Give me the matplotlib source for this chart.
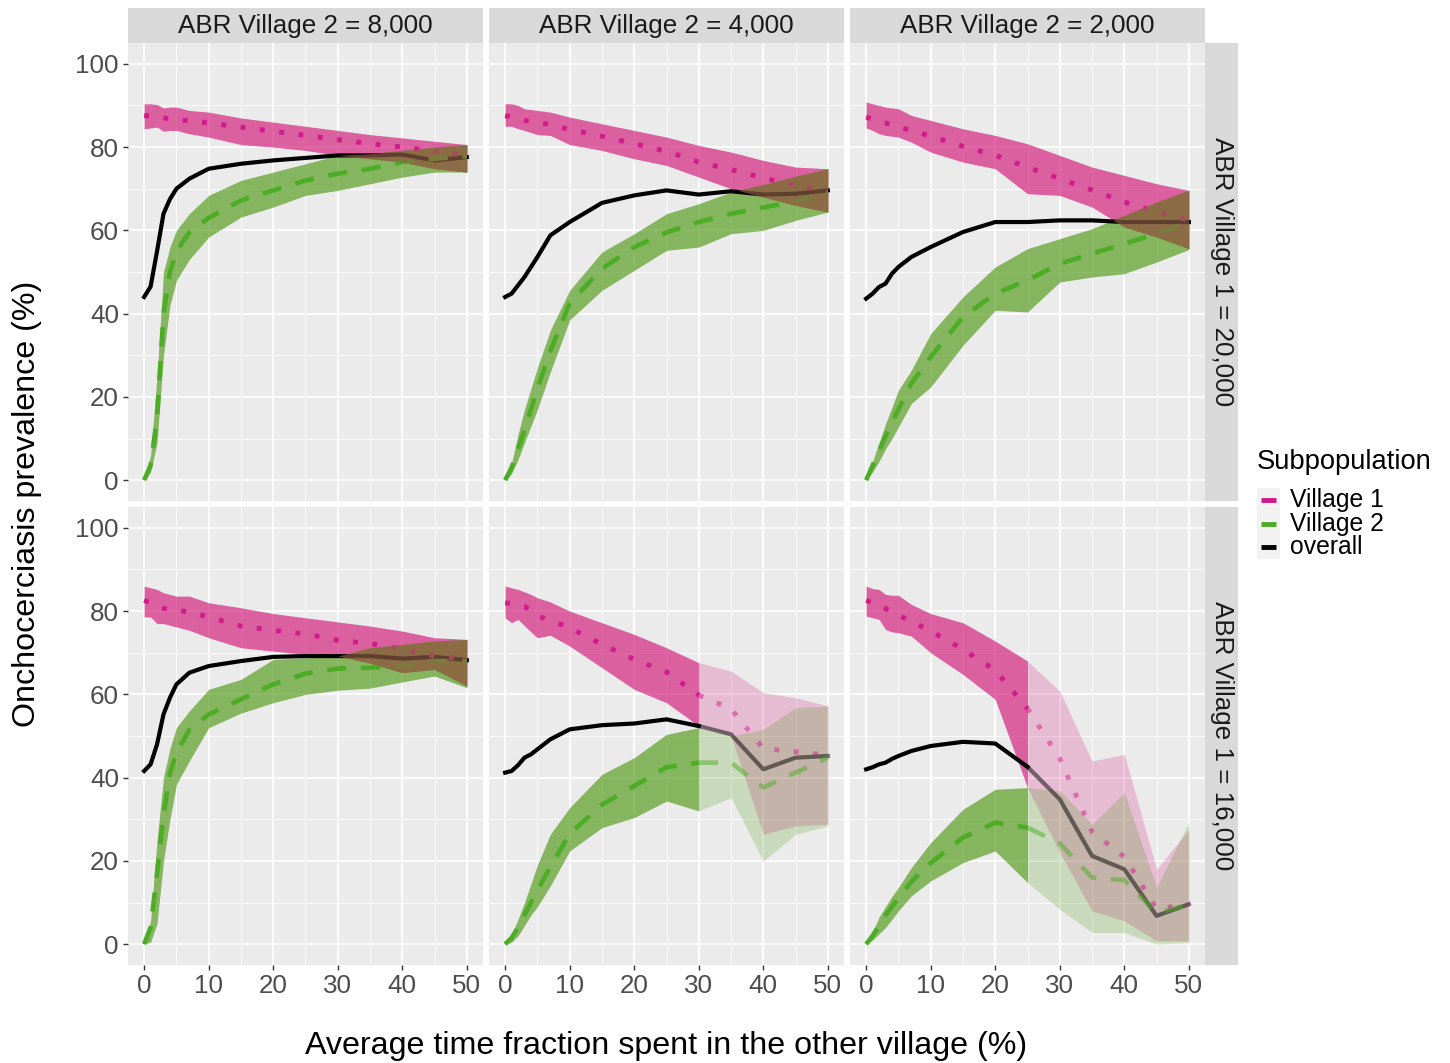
import numpy as np
import matplotlib
matplotlib.use("Agg")
import matplotlib.pyplot as plt
from matplotlib.lines import Line2D
from matplotlib.patches import Rectangle

plt.rcParams['font.family'] = ['Liberation Sans', 'DejaVu Sans']

# ---------------- data ----------------
x = [0, 1, 2, 3, 4, 5, 7, 10, 15, 20, 25, 30, 35, 40, 45, 50]
col_labels = ["ABR Village 2 = 8,000", "ABR Village 2 = 4,000", "ABR Village 2 = 2,000"]
row_labels = ["ABR Village 1 = 20,000", "ABR Village 1 = 16,000"]
series_labels = ["Village 1", "Village 2", "overall"]
x_ticks = [0, 10, 20, 30, 40, 50]
y_ticks = [0, 20, 40, 60, 80, 100]

# ABR1 = 20,000 / ABR2 = 8,000
v1_mean_20_8 = [87.6, 87.4, 87.2, 87.0, 86.8, 86.6, 86.3, 85.8, 84.8, 83.8, 82.8, 81.8, 80.8, 80.0, 79.0, 78.0]
v1_lo_20_8 = [84.4, 84.6, 84.8, 83.8, 84.0, 84.0, 83.2, 82.4, 80.6, 80.0, 79.2, 78.0, 77.2, 76.4, 74.8, 74.0]
v1_hi_20_8 = [90.4, 90.4, 90.2, 89.4, 89.6, 89.6, 88.8, 88.4, 87.0, 86.0, 85.0, 84.0, 83.0, 82.2, 81.4, 80.6]
v2_mean_20_8 = [0, 3.5, 15, 40, 50, 55, 59.5, 63, 67.2, 69.6, 72, 73.6, 74.8, 76.4, 77.2, 77.8]
v2_lo_20_8 = [0, 2, 9, 30, 42, 48, 53, 58.4, 63.2, 65.6, 68.4, 69.6, 71.2, 72.8, 74.0, 74.0]
v2_hi_20_8 = [0, 6, 25, 50, 56, 60, 64, 68.4, 72, 74, 76, 78, 78.4, 79.2, 80, 80.6]
all_20_8 = [44, 46.5, 55, 64, 67.5, 70, 72.4, 74.8, 76, 76.8, 77.4, 78, 78, 78.2, 76.8, 77.6]

# ABR1 = 20,000 / ABR2 = 4,000
v1_mean_20_4 = [87.6, 87.2, 86.8, 86.4, 86.2, 86.0, 85.4, 84.2, 82.6, 80.8, 79.0, 76.4, 74.6, 72.6, 70.8, 69.4]
v1_lo_20_4 = [85.0, 85.0, 84.4, 84.0, 83.5, 83.0, 82.8, 80.6, 79.2, 77.2, 75.6, 72.8, 70.0, 68.0, 66.0, 64.4]
v1_hi_20_4 = [90.4, 90.4, 90.0, 89.2, 89.0, 88.8, 88.4, 87.2, 85.6, 84.0, 82.4, 80.4, 78.8, 76.8, 75.2, 74.8]
v2_mean_20_4 = [0, 3, 7.5, 12, 17, 22, 31, 42.5, 50.8, 56, 59.5, 62, 64, 65.5, 67, 69]
v2_lo_20_4 = [0, 1.6, 5, 9, 13, 17, 26, 38.5, 45.6, 50.4, 55.2, 56, 59.2, 60, 62.4, 64.4]
v2_hi_20_4 = [0, 4, 11, 17, 22, 27, 36, 45.6, 54.8, 59.2, 64, 66.4, 69.2, 71, 73, 74.8]
all_20_4 = [44, 44.8, 46.8, 48.8, 51.2, 53.6, 58.8, 62, 66.6, 68.4, 69.6, 68.6, 69.4, 68.6, 68.8, 69.6]

# ABR1 = 20,000 / ABR2 = 2,000
v1_mean_20_2 = [87.2, 86.7, 86.2, 85.8, 85.3, 84.8, 84.0, 82.6, 80.2, 78.0, 75.2, 72.4, 69.7, 66.8, 64.4, 62.5]
v1_lo_20_2 = [84.6, 84.0, 83.2, 82.8, 82.6, 82.4, 81.2, 78.8, 76.4, 74.8, 68.8, 68.4, 65.6, 60.8, 58.4, 55.6]
v1_hi_20_2 = [90.8, 90.4, 90.0, 89.6, 89.4, 89.2, 87.6, 86.4, 84.4, 82.8, 80.8, 78.0, 75.2, 73.2, 71.2, 69.6]
v2_mean_20_2 = [0, 3.5, 7, 10.5, 14, 17, 23.2, 29.6, 39.2, 44.8, 48, 52, 54.4, 56.8, 59.2, 62]
v2_lo_20_2 = [0, 2, 4.5, 7.5, 10, 12.8, 18.4, 22.4, 32.4, 40.8, 40.4, 47.6, 48.8, 49.6, 52.4, 55.4]
v2_hi_20_2 = [0, 4.5, 9, 13.5, 17.5, 21.6, 26.4, 35.2, 44, 51.2, 55.6, 58, 60.4, 63.6, 66.8, 69.6]
all_20_2 = [43.6, 44.8, 46.4, 47.2, 49.6, 51.2, 53.6, 56.0, 59.6, 62.0, 62.0, 62.4, 62.4, 62.0, 62.0, 62.0]

# ABR1 = 16,000 / ABR2 = 8,000
v1_mean_16_8 = [82.6, 82.0, 81.4, 80.7, 80.3, 80.2, 79.8, 78.6, 76.4, 75.4, 74.5, 73.0, 72.2, 70.8, 69.2, 68.5]
v1_lo_16_8 = [78.6, 78.6, 77.0, 77.0, 76.6, 76.2, 75.4, 73.6, 71.2, 70.4, 69.6, 69.2, 67.5, 65.2, 66.0, 62.0]
v1_hi_16_8 = [86.0, 85.6, 85.2, 84.4, 84.0, 83.6, 83.6, 82.0, 80.8, 79.4, 78.4, 77.4, 76.4, 75.2, 73.6, 73.2]
v2_mean_16_8 = [0, 4, 17, 31, 41, 46, 51.5, 55.2, 58.8, 62.4, 65, 66.2, 66.4, 66.8, 68, 68]
v2_lo_16_8 = [0, 0.5, 5, 20, 30, 38.4, 44, 52, 55.5, 58, 60, 61, 61.5, 63, 64.4, 61.6]
v2_hi_16_8 = [0, 5.6, 25, 40, 47, 52, 56, 61.2, 63.6, 68.4, 68.8, 69.2, 71.2, 72, 72.8, 73.2]
all_16_8 = [41.6, 43.2, 48, 55.2, 59.2, 62.4, 65.2, 66.8, 68, 69, 69.2, 69.2, 69.2, 68.6, 69, 68.2]

# ABR1 = 16,000 / ABR2 = 4,000
v1_mean_16_4 = [82.0, 81.8, 81.5, 81.2, 80.0, 78.8, 77.8, 76.0, 72.0, 68.4, 65.4, 59.8, 56.5, 47.0, 46.2, 45.4]
v1_lo_16_4 = [78.4, 77.2, 78.0, 76.5, 75.0, 73.6, 74.2, 71.6, 66.4, 61.2, 58.0, 52.4, 50.0, 26.4, 28.4, 28.8]
v1_hi_16_4 = [86.0, 85.6, 85.2, 84.6, 84.0, 83.2, 82.2, 80.0, 77.2, 74.4, 71.2, 67.6, 65.6, 60.4, 59.2, 57.2]
v2_mean_16_4 = [0, 1.5, 4, 7, 10, 13, 18.5, 26.5, 33.5, 38, 42.5, 43.6, 43.6, 37.6, 41.2, 44.8]
v2_lo_16_4 = [0, 0.5, 2, 4.5, 7, 9, 14, 22.4, 28, 30.4, 34.4, 32, 35.2, 20, 26.4, 28.4]
v2_hi_16_4 = [0, 2.4, 6, 10, 14.5, 19, 26.4, 32.8, 40.8, 44.8, 50.4, 52, 50, 51.6, 56.8, 57.2]
all_16_4 = [41.2, 41.6, 43, 44.8, 45.6, 46.8, 49.2, 51.6, 52.6, 53, 54, 52.4, 50.4, 42, 44.8, 45.2]

# ABR1 = 16,000 / ABR2 = 2,000
v1_mean_16_2 = [82.6, 82.0, 81.2, 80.6, 79.8, 79.0, 77.5, 75.2, 70.8, 65.8, 56.6, 44.6, 27.0, 21.0, 8.5, 9.5]
v1_lo_16_2 = [78.8, 78.4, 78.0, 75.6, 75.0, 74.8, 74.0, 70.0, 64.8, 58.8, 37.6, 22.0, 8.0, 5.6, 0.8, 0.8]
v1_hi_16_2 = [86.0, 85.4, 85.2, 84.0, 83.8, 83.8, 81.6, 79.4, 77.2, 72.8, 68.0, 60.8, 44.0, 45.6, 18.0, 27.6]
v2_mean_16_2 = [0, 2, 4.5, 7, 9, 11, 15, 19.5, 25.6, 29.2, 28, 24.2, 16, 15.4, 7.5, 9.4]
v2_lo_16_2 = [0, 1, 2.5, 4, 6, 8, 11.6, 15.2, 19.6, 22.4, 14.8, 8.4, 2.8, 2.8, 0, 0.4]
v2_hi_16_2 = [0, 3, 6.5, 9, 11.5, 13.6, 18.4, 24.4, 32.4, 37.2, 37.6, 36.8, 28.8, 36.4, 13.6, 29.2]
all_16_2 = [42, 42.5, 43.2, 43.6, 44.5, 45.2, 46.4, 47.6, 48.6, 48.2, 42.6, 34.8, 21.2, 18, 6.8, 9.6]

# x value from which results are shown faded (None = all solid)
fade_from = [[None, None, None], [None, 30, 25]]

panels = [
    [(v1_mean_20_8, v1_lo_20_8, v1_hi_20_8, v2_mean_20_8, v2_lo_20_8, v2_hi_20_8, all_20_8),
     (v1_mean_20_4, v1_lo_20_4, v1_hi_20_4, v2_mean_20_4, v2_lo_20_4, v2_hi_20_4, all_20_4),
     (v1_mean_20_2, v1_lo_20_2, v1_hi_20_2, v2_mean_20_2, v2_lo_20_2, v2_hi_20_2, all_20_2)],
    [(v1_mean_16_8, v1_lo_16_8, v1_hi_16_8, v2_mean_16_8, v2_lo_16_8, v2_hi_16_8, all_16_8),
     (v1_mean_16_4, v1_lo_16_4, v1_hi_16_4, v2_mean_16_4, v2_lo_16_4, v2_hi_16_4, all_16_4),
     (v1_mean_16_2, v1_lo_16_2, v1_hi_16_2, v2_mean_16_2, v2_lo_16_2, v2_hi_16_2, all_16_2)],
]

# ---------------- style ----------------
PINK = "#D01C8B"
GREEN = "#4DAC26"
PINK_FILL = "#CF036E"
GREEN_FILL = "#419100"
BROWN = "#936349"
PANEL_BG = "#EBEBEB"
STRIP_BG = "#D9D9D9"
W, H = 1450, 1063
SMALL = 18.7
BIG = 23.2

fig = plt.figure(figsize=(W / 100, H / 100), dpi=100)
fig.patch.set_facecolor("white")


def rect(l, t, w, h):
    return [l / W, 1 - (t + h) / H, w / W, h / H]


col_left = [128, 489, 850]
panel_w = 355
row_top = [43, 507]
panel_h = 458


def draw_part(ax, xs, d, idx, ribbon_alpha, line_alpha, overlap):
    v1m, v1l, v1h, v2m, v2l, v2h, ov = [np.asarray(a, float)[idx] for a in d]
    ax.fill_between(xs, v1l, v1h, color=PINK_FILL, alpha=ribbon_alpha, lw=0, zorder=2)
    ax.fill_between(xs, v2l, v2h, color=GREEN_FILL, alpha=ribbon_alpha, lw=0, zorder=3)
    if overlap:
        lo = np.maximum(v1l, v2l)
        hi = np.minimum(v1h, v2h)
        ax.fill_between(xs, lo, hi, where=hi >= lo, interpolate=True,
                        color=BROWN, alpha=0.65, lw=0, zorder=4)
    ax.plot(xs, v1m, color=PINK, lw=3.5, alpha=line_alpha, zorder=3.6,
            linestyle=(0, (1, 3.0)), dash_capstyle="butt")
    ax.plot(xs, v2m, color=GREEN, lw=3.3, alpha=line_alpha, zorder=3.6,
            linestyle=(0, (4.2, 3.2)), dash_capstyle="butt")
    ax.plot(xs, ov, color="black", lw=3.0, alpha=line_alpha, zorder=3.5,
            solid_joinstyle="round")


xa = np.asarray(x, float)
for r in range(2):
    for c in range(3):
        ax = fig.add_axes(rect(col_left[c], row_top[r], panel_w, panel_h))
        ax.set_facecolor(PANEL_BG)
        for s in ax.spines.values():
            s.set_visible(False)
        ax.set_xlim(-2.5, 52.5)
        ax.set_ylim(-5, 105)
        ax.set_xticks(x_ticks)
        ax.set_xticks([5, 15, 25, 35, 45], minor=True)
        ax.set_yticks(y_ticks)
        ax.set_yticks([10, 30, 50, 70, 90], minor=True)
        ax.grid(which="major", color="white", lw=1.2)
        ax.grid(which="minor", color="white", lw=0.6)
        ax.set_axisbelow(True)
        ax.tick_params(which="minor", length=0)
        ax.tick_params(which="major", length=3.5, width=1.0, color="#333333",
                       labelcolor="#4D4D4D", labelsize=SMALL, pad=3)
        if c > 0:
            ax.tick_params(left=False, labelleft=False)
        if r == 0:
            ax.tick_params(bottom=False, labelbottom=False)

        d = panels[r][c]
        thr = fade_from[r][c]
        if thr is None:
            draw_part(ax, xa, d, slice(None), 0.6, 1.0, True)
        else:
            solid = xa <= thr
            faded = xa >= thr
            draw_part(ax, xa[solid], d, solid, 0.6, 1.0, True)
            draw_part(ax, xa[faded], d, faded, 0.2, 0.5, False)

        if c == 2:
            sax = fig.add_axes(rect(1205, row_top[r], 33, panel_h))
            sax.set_facecolor(STRIP_BG)
            sax.set_xticks([]); sax.set_yticks([])
            for s in sax.spines.values():
                s.set_visible(False)
            sax.text(0.5, 0.5, row_labels[r], rotation=-90, ha="center", va="center",
                     fontsize=SMALL, color="#1A1A1A", transform=sax.transAxes)

for c in range(3):
    sax = fig.add_axes(rect(col_left[c], 8, panel_w, 35))
    sax.set_facecolor(STRIP_BG)
    sax.set_xticks([]); sax.set_yticks([])
    for s in sax.spines.values():
        s.set_visible(False)
    sax.text(0.5, 0.5, col_labels[c], ha="center", va="center",
             fontsize=SMALL, color="#1A1A1A", transform=sax.transAxes)

fig.text(27 / W, 1 - 504 / H, "Onchocerciasis prevalence (%)", rotation=90,
         ha="center", va="center", fontsize=BIG, color="black")
fig.text(666 / W, 1 - 1046 / H, "Average time fraction spent in the other village (%)",
         ha="center", va="center", fontsize=BIG, color="black")

# legend (ggplot style)
fig.text(1257 / W, 1 - 462 / H, "Subpopulation", ha="left", va="center",
         fontsize=19.7, color="black")
key_colors = [PINK, GREEN, "black"]
key_y = [500, 523.5, 547]
for lab, col, ky in zip(series_labels, key_colors, key_y):
    fig.add_artist(Rectangle((1257 / W, 1 - (ky + 12) / H), 23 / W, 24 / H,
                             transform=fig.transFigure, facecolor="#F2F2F2",
                             edgecolor="none", zorder=1))
    fig.add_artist(Line2D([1261 / W, 1276 / W], [1 - ky / H, 1 - ky / H],
                          transform=fig.transFigure, color=col, lw=3.5,
                          solid_capstyle="butt", zorder=2))
    fig.text(1290 / W, 1 - ky / H, lab, ha="left", va="center",
             fontsize=17.8, color="black")

fig.savefig("out.png", dpi=100, facecolor="white")
